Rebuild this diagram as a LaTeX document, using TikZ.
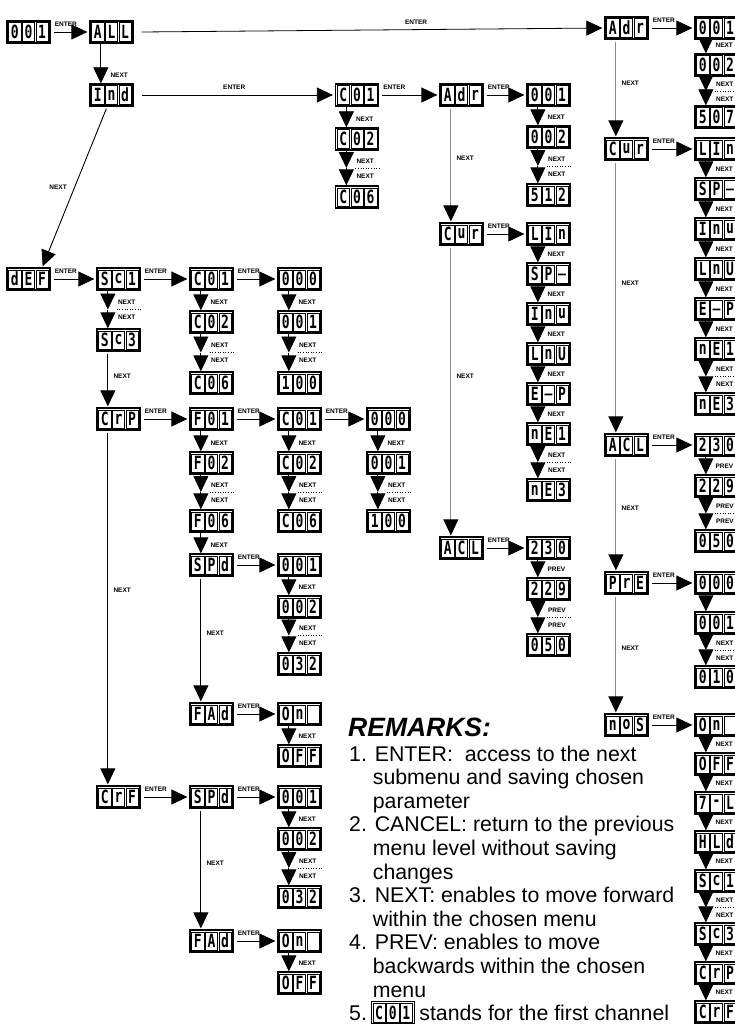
\documentclass[tikz,border=0pt]{standalone}
\usepackage{graphicx}
\usepackage{fontspec}
\setmainfont{Liberation Sans}
\newfontfamily\segfont{DejaVu Sans Mono}
\usetikzlibrary{arrows.meta,calc}
\tikzset{
  dispbox/.style={draw,line width=1.3pt,minimum width=43pt,minimum height=22pt,inner sep=0pt,fill=white},
  cellbox/.style={draw,line width=0.6pt,minimum width=12.4pt,minimum height=18.4pt,inner sep=0pt,font=\segfont\bfseries\fontsize{13}{13}\selectfont},
  lbl/.style={font=\bfseries\fontsize{6.5}{6.5}\selectfont,inner sep=0pt},
  tiphead/.style={-{Triangle[length=16pt,width=15pt,color=black]}},
  enterarrow/.style={line width=0.8pt,tiphead},
  nextarrow/.style={line width=0.8pt,tiphead},
  menuline/.style={line width=0.9pt,tiphead},
  grayline/.style={menuline,draw=black!45},
  dots/.style={line width=0.6pt,dotted},
  rmk/.style={font=\fontsize{21.3}{23}\selectfont,inner sep=0pt,anchor=base west},
}
\newcommand\segchar[1]{\scalebox{1}[1.4]{#1}}
\newcommand\dsp[5]{%
  \node[dispbox] (#1) at (#2) {};
  \node[cellbox] (#1-a) at ($(#1.center)+(-13.6,0)$) {\segchar{#3}};
  \node[cellbox] (#1-b) at (#1.center) {\segchar{#4}};
  \node[cellbox] (#1-c) at ($(#1.center)+(13.6,0)$) {\segchar{#5}};}
\newcommand\ent[2]{%
  \draw[enterarrow] ($(#1.east)+(3,0)$) -- ($(#2.west)+(-2,0)$);
  \node[lbl,anchor=south west] (#1-#2-l) at ($(#1.east)+(4,-5)$) {ENTER};}
\newcommand\entm[3][0.5]{%
  \draw[enterarrow] ($(#2.east)+(8,0)$) -- ($(#3.west)+(-2,0)$);
  \node[lbl,anchor=south] (#2-#3-l) at ($(#2.east)!#1!(#3.west)+(0,-5)$) {ENTER};}
\newcommand\nx[3][NEXT]{%
  \draw[nextarrow] ($(#2.south west)+(11.5,0)$) -- ($(#3.north west)+(11.5,0)$);
  \node[lbl,anchor=west] (#2-#3-l) at ($(#3.north west)+(21,-8)$) {#1};}
\newcommand\nxq[2]{%
  \draw[nextarrow] ($(#1.south west)+(11.5,0)$) -- ($(#2.north west)+(11.5,0)$);}
\newcommand\dnx[3][NEXT]{%
  \coordinate (#2-#3-m) at ($(#2.south west)!0.5!(#3.north west)+(11.5,0)$);
  \draw[nextarrow] ($(#2.south west)+(11.5,0)$) -- (#2-#3-m);
  \draw[nextarrow] (#2-#3-m) -- ($(#3.north west)+(11.5,0)$);
  \draw[dots] ($(#2-#3-m)+(9,0)$) -- (#3.east |- #2-#3-m);
  \node[lbl,anchor=west] (#2-#3-a) at ($(#2-#3-m)+(10,-7)$) {#1};
  \node[lbl,anchor=west] (#2-#3-b) at ($(#2-#3-m)+(10,8)$) {#1};}
\newcommand\mnx[3][menuline]{%
  \draw[#1] ($(#2.south west)+(11.5,2)$) -- ($(#3.north west)+(11.5,-1)$);
  \node[lbl,anchor=west] (#2-#3-l) at ($(#2.south west)!0.45!(#3.north west)+(17,0)$) {NEXT};}

\begin{document}
\begin{tikzpicture}[x=1pt,y=-1pt]
\useasboundingbox (0,0) rectangle (735,1030);
\fill[white] (0,0) rectangle (735,1030);
\clip (0,0) rectangle (735,1030);

% ---------- top row
\dsp{d001}{28.5,32}{0}{0}{1}
\dsp{dALL}{111.5,32}{A}{L}{L}
\dsp{dInd}{111.5,95}{I}{n}{d}

% ---------- right columns
\dsp{AdrR}{626.5,28}{A}{d}{r}
\dsp{rA1}{716.5,28}{0}{0}{1}
\dsp{rA2}{716.5,65}{0}{0}{2}
\dsp{rA3}{716.5,117}{5}{0}{7}
\dsp{CurR}{626.5,149}{C}{u}{r}
\dsp{rB1}{716.5,149}{L}{I}{n}
\dsp{rB2}{716.5,189}{S}{P}{\_}
\dsp{rB3}{716.5,229}{I}{n}{u}
\dsp{rB4}{716.5,269}{L}{n}{U}
\dsp{rB5}{716.5,309}{E}{\_}{P}
\dsp{rB6}{716.5,349}{n}{E}{1}
\dsp{rB7}{716.5,404}{n}{E}{3}
\dsp{ACLR}{626.5,445}{A}{C}{L}
\dsp{rC1}{716.5,445}{2}{3}{0}
\dsp{rC2}{716.5,486}{2}{2}{9}
\dsp{rC3}{716.5,541}{0}{5}{0}
\dsp{PrER}{626.5,583}{P}{r}{E}
\dsp{rD1}{716.5,583}{0}{0}{0}
\dsp{rD2}{716.5,623}{0}{0}{1}
\dsp{rD3}{716.5,677}{0}{1}{0}
\dsp{nOSR}{626.5,725}{n}{o}{S}
\dsp{rE1}{716.5,725}{O}{n}{}
\dsp{rE2}{716.5,764}{O}{F}{F}
\dsp{rE3}{716.5,803}{7}{-}{L}
\dsp{rE4}{716.5,842}{H}{L}{d}
\dsp{rE5}{716.5,881}{S}{c}{1}
\dsp{rE6}{716.5,934}{S}{c}{3}
\dsp{rE7}{716.5,973}{C}{r}{P}
\dsp{rE8}{716.5,1012}{C}{r}{F}

% ---------- middle columns
\dsp{tC1}{357,95}{C}{0}{1}
\dsp{tC2}{357,139}{C}{0}{2}
\dsp{tC3}{357,197}{C}{0}{6}
\dsp{AdrM}{461.5,95}{A}{d}{r}
\dsp{mA1}{548.5,95}{0}{0}{1}
\dsp{mA2}{548.5,137}{0}{0}{2}
\dsp{mA3}{548.5,195}{5}{1}{2}
\dsp{CurM}{461.5,234}{C}{u}{r}
\dsp{mB1}{548.5,234}{L}{I}{n}
\dsp{mB2}{548.5,274}{S}{P}{\_}
\dsp{mB3}{548.5,314}{I}{n}{u}
\dsp{mB4}{548.5,354}{L}{n}{U}
\dsp{mB5}{548.5,394}{E}{\_}{P}
\dsp{mB6}{548.5,434}{n}{E}{1}
\dsp{mB7}{548.5,490}{n}{E}{3}
\dsp{ACLM}{461.5,548}{A}{C}{L}
\dsp{mC1}{548.5,548}{2}{3}{0}
\dsp{mC2}{548.5,589}{2}{2}{9}
\dsp{mC3}{548.5,645}{0}{5}{0}

% ---------- left part
\dsp{dEF}{28.5,279}{d}{E}{F}
\dsp{dSc1}{118.5,279}{S}{c}{1}
\dsp{dSc3}{118.5,340}{S}{c}{3}
\dsp{dC01d}{211.5,279}{C}{0}{1}
\dsp{dC02d}{211.5,322}{C}{0}{2}
\dsp{dC06d}{211.5,383}{C}{0}{6}
\dsp{d000d}{299.5,279}{0}{0}{0}
\dsp{d001d}{299.5,322}{0}{0}{1}
\dsp{d100d}{299.5,383}{1}{0}{0}
\dsp{dCrP}{118.5,419}{C}{r}{P}
\dsp{dF01}{211.5,419}{F}{0}{1}
\dsp{dF02}{211.5,463}{F}{0}{2}
\dsp{dF06}{211.5,521}{F}{0}{6}
\dsp{dSPd}{211.5,565}{S}{P}{d}
\dsp{dC01c}{299.5,419}{C}{0}{1}
\dsp{dC02c}{299.5,463}{C}{0}{2}
\dsp{dC06c}{299.5,521}{C}{0}{6}
\dsp{d000c}{388.5,419}{0}{0}{0}
\dsp{d001c}{388.5,463}{0}{0}{1}
\dsp{d100c}{388.5,521}{1}{0}{0}
\dsp{dS1}{299.5,565}{0}{0}{1}
\dsp{dS2}{299.5,607}{0}{0}{2}
\dsp{dS3}{299.5,664}{0}{3}{2}
\dsp{dFAd}{211.5,714}{F}{A}{d}
\dsp{dOn}{299.5,714}{O}{n}{}
\dsp{dOFF}{299.5,756}{O}{F}{F}
\dsp{dCrF}{118.5,797}{C}{r}{F}
\dsp{dSPd2}{211.5,797}{S}{P}{d}
\dsp{dT1}{299.5,797}{0}{0}{1}
\dsp{dT2}{299.5,839}{0}{0}{2}
\dsp{dT3}{299.5,897}{0}{3}{2}
\dsp{dFAd2}{211.5,941}{F}{A}{d}
\dsp{dOn2}{299.5,941}{O}{n}{}
\dsp{dOFF2}{299.5,983}{O}{F}{F}

% ---------- remarks
\node[font=\bfseries\itshape\fontsize{26.5}{26.5}\selectfont,anchor=base west,inner sep=0pt] (rmT) at (348,736) {REMARKS:};
\node[rmk] (rm1) at (349,761) {1. ENTER:\ \ access to the next};
\node[rmk] (rm2) at (349,784.6) {\hspace*{1.112em}submenu and saving chosen};
\node[rmk] (rm3) at (349,808.2) {\hspace*{1.112em}parameter};
\node[rmk] (rm4) at (349,831.8) {2. CANCEL: return to the previous};
\node[rmk] (rm5) at (349,855.4) {\hspace*{1.112em}menu level without saving};
\node[rmk] (rm6) at (349,879) {\hspace*{1.112em}changes};
\node[rmk] (rm7) at (349,902.6) {3. NEXT: enables to move forward};
\node[rmk] (rm8) at (349,926.2) {\hspace*{1.112em}within the chosen menu};
\node[rmk] (rm9) at (349,949.8) {4. PREV: enables to move};
\node[rmk] (rm10) at (349,973.4) {\hspace*{1.112em}backwards within the chosen};
\node[rmk] (rm11) at (349,997) {\hspace*{1.112em}menu};
\node[rmk] (rm12) at (349,1020.6) {5.};
\dsp{dRm}{$(rm12.base east)+(25.5,-8)$}{C}{0}{1}
\node[rmk] (rm13) at ($(rm12.base east)+(52,0)$) {stands for the first channel};

% ---------- ENTER arrows
\ent{d001}{dALL}
\entm[0.6]{dALL}{AdrR}
\entm{dInd}{tC1}
\ent{tC1}{AdrM}
\ent{AdrM}{mA1}
\ent{AdrR}{rA1}
\ent{CurR}{rB1}
\ent{CurM}{mB1}
\ent{ACLM}{mC1}
\ent{ACLR}{rC1}
\ent{PrER}{rD1}
\ent{nOSR}{rE1}
\ent{dEF}{dSc1}
\ent{dSc1}{dC01d}
\ent{dC01d}{d000d}
\ent{dCrP}{dF01}
\ent{dF01}{dC01c}
\ent{dC01c}{d000c}
\ent{dSPd}{dS1}
\ent{dFAd}{dOn}
\ent{dCrF}{dSPd2}
\ent{dSPd2}{dT1}
\ent{dFAd2}{dOn2}

% ---------- NEXT / PREV chains
\nx{dALL}{dInd}
\nx{tC1}{tC2}
\dnx{tC2}{tC3}
\nx{mA1}{mA2}
\dnx{mA2}{mA3}
\nx{rA1}{rA2}
\dnx{rA2}{rA3}
\nx{rB1}{rB2}
\nx{rB2}{rB3}
\nx{rB3}{rB4}
\nx{rB4}{rB5}
\nx{rB5}{rB6}
\dnx{rB6}{rB7}
\nx{mB1}{mB2}
\nx{mB2}{mB3}
\nx{mB3}{mB4}
\nx{mB4}{mB5}
\nx{mB5}{mB6}
\dnx{mB6}{mB7}
\nx[PREV]{rC1}{rC2}
\dnx[PREV]{rC2}{rC3}
\nx[PREV]{mC1}{mC2}
\dnx[PREV]{mC2}{mC3}
\nxq{rD1}{rD2}
\dnx{rD2}{rD3}
\nx{rE1}{rE2}
\nx{rE2}{rE3}
\nx{rE3}{rE4}
\nx{rE4}{rE5}
\dnx{rE5}{rE6}
\nx{rE6}{rE7}
\nx{rE7}{rE8}
\dnx{dSc1}{dSc3}
\nx{dC01d}{dC02d}
\dnx{dC02d}{dC06d}
\nx{d000d}{d001d}
\dnx{d001d}{d100d}
\nx{dF01}{dF02}
\dnx{dF02}{dF06}
\nx{dF06}{dSPd}
\nx{dC01c}{dC02c}
\dnx{dC02c}{dC06c}
\nx{d000c}{d001c}
\dnx{d001c}{d100c}
\nx{dS1}{dS2}
\dnx{dS2}{dS3}
\nx{dOn}{dOFF}
\nx{dT1}{dT2}
\dnx{dT2}{dT3}
\nx{dOn2}{dOFF2}

% ---------- menu-level NEXT lines
\draw[menuline] ($(dInd.south west)+(17,2)$) -- ($(dEF.north east)+(-8,-1)$);
\node[lbl,anchor=east] (dInd-dEF-l) at ($(dInd.south west)!0.5!(dEF.north east)+(-3,0)$) {NEXT};
\mnx{dSc3}{dCrP}
\mnx{dCrP}{dCrF}
\mnx{dSPd}{dFAd}
\mnx{dSPd2}{dFAd2}
\mnx[grayline]{AdrM}{CurM}
\mnx[grayline]{CurM}{ACLM}
\mnx[grayline]{AdrR}{CurR}
\mnx[grayline]{CurR}{ACLR}
\mnx[grayline]{ACLR}{PrER}
\mnx[grayline]{PrER}{nOSR}
\end{tikzpicture}
\end{document}
